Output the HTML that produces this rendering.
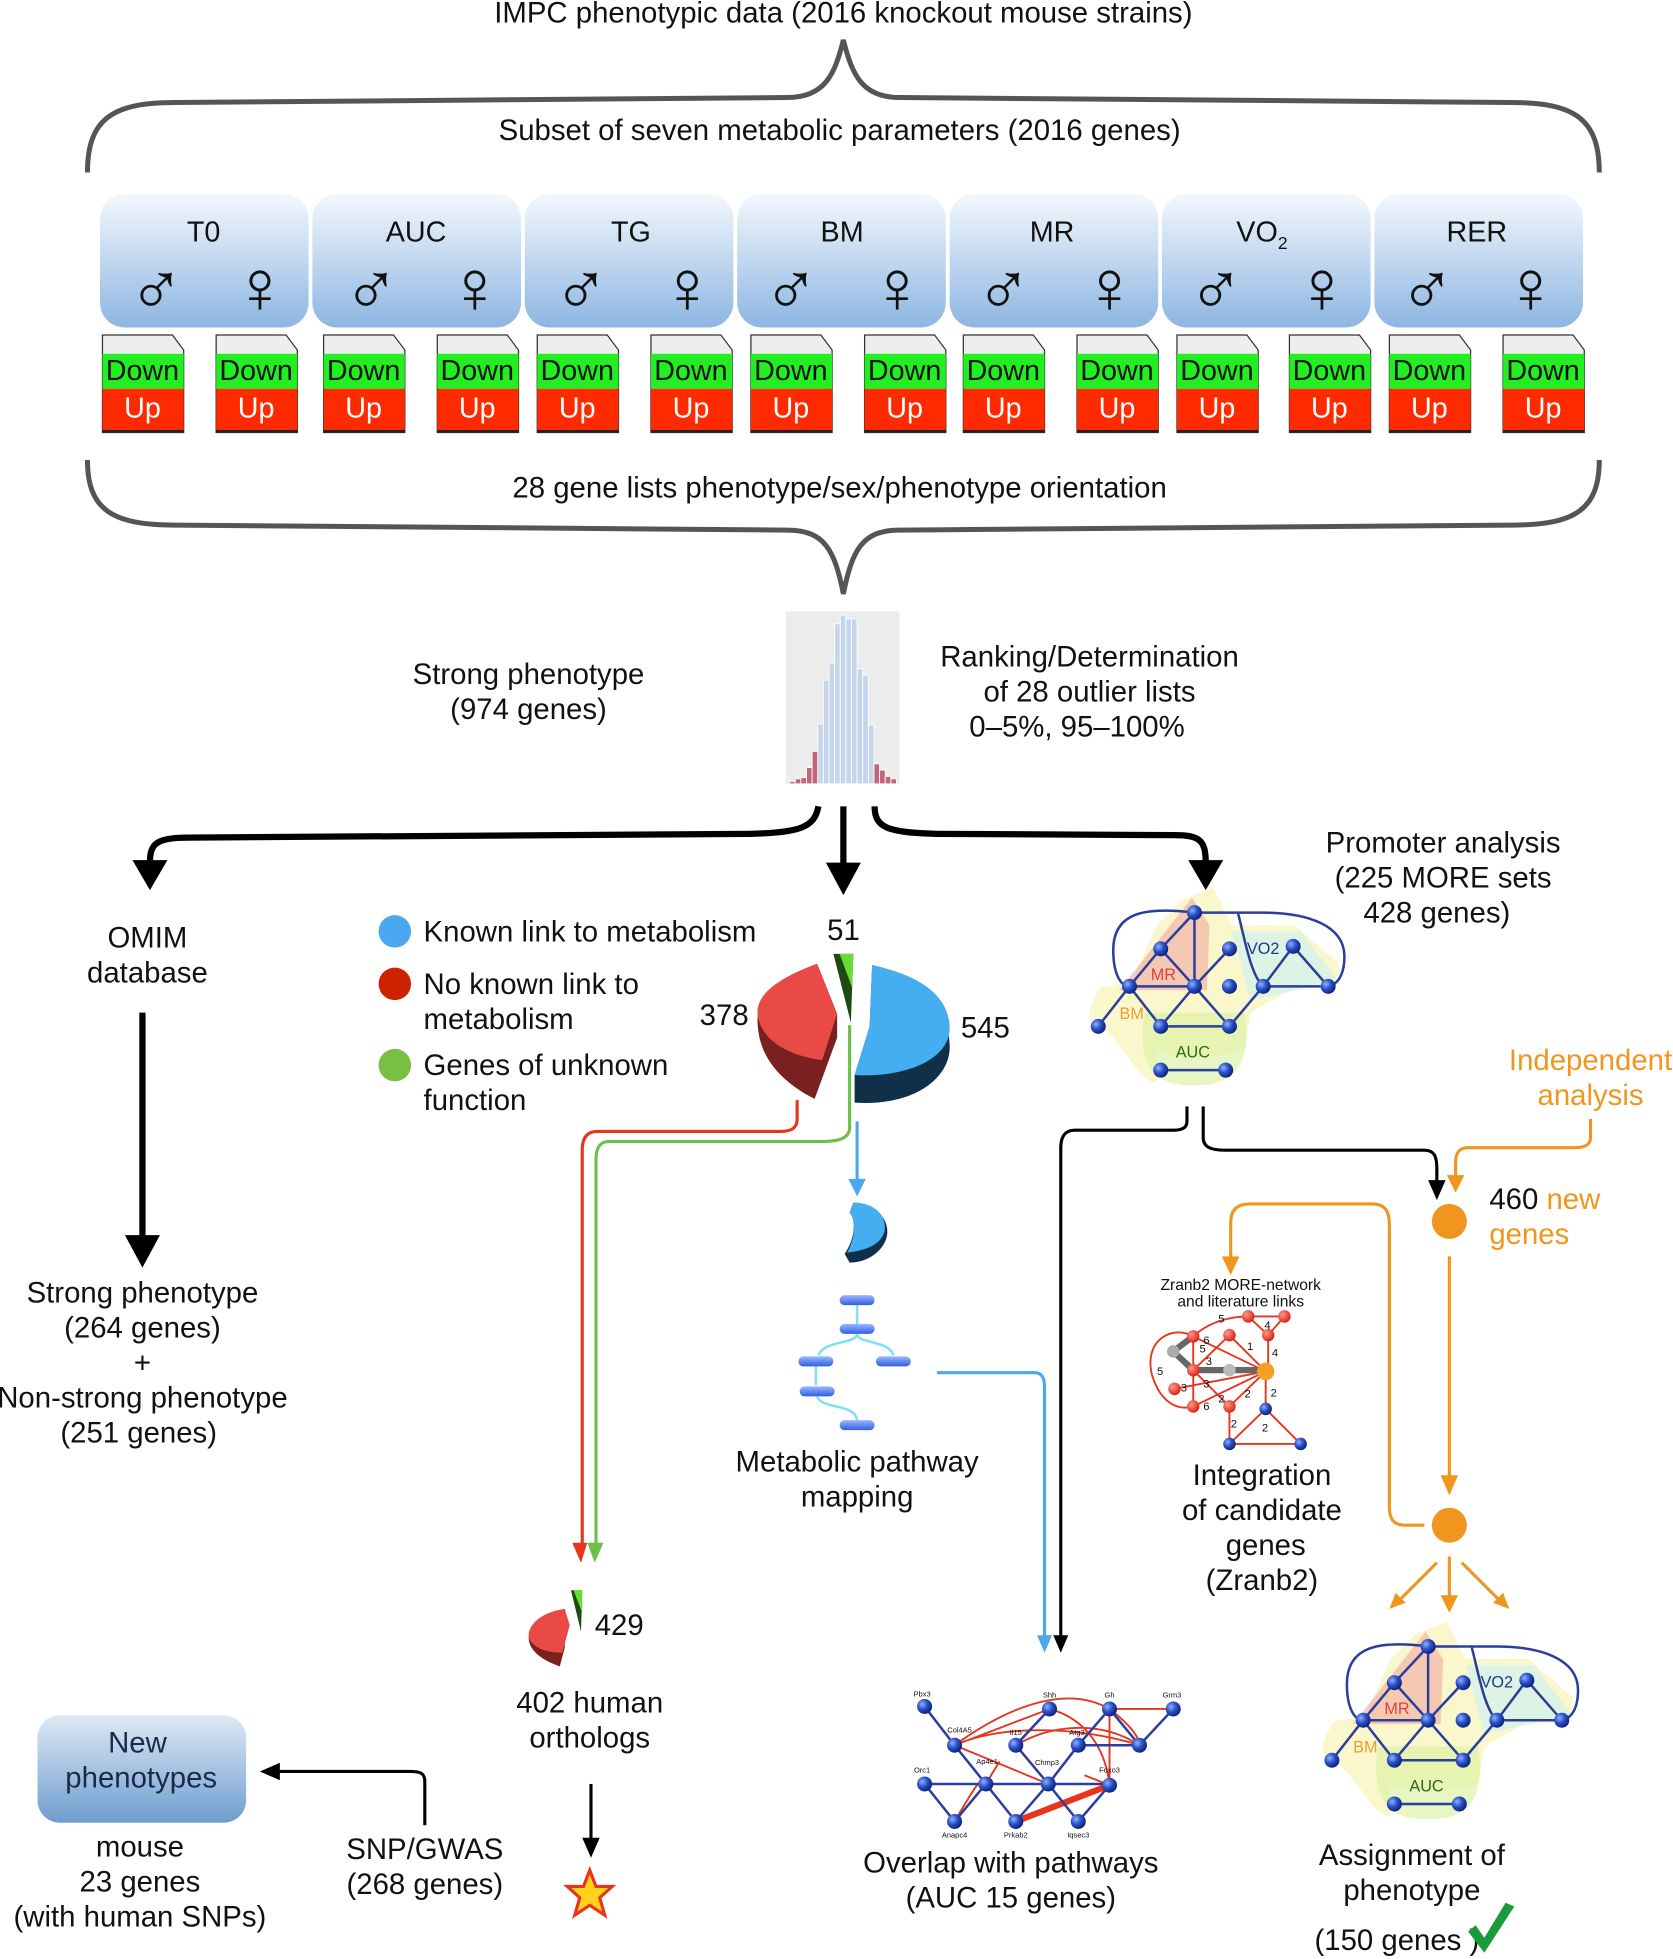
<!DOCTYPE html>
<html><head><meta charset="utf-8"><style>html,body{margin:0;padding:0;background:#fff}svg{display:block}text{font-family:"Liberation Sans",sans-serif}</style></head><body>
<svg width="1673" height="1959" viewBox="0 0 1339 1567" preserveAspectRatio="none" xmlns="http://www.w3.org/2000/svg">
<defs>
<linearGradient id="bx" x1="0" y1="0" x2="0" y2="1"><stop offset="0" stop-color="#f4f8fd"/><stop offset="1" stop-color="#8db6e2"/></linearGradient>
<radialGradient id="nd" cx="0.35" cy="0.35" r="0.7"><stop offset="0" stop-color="#8fb0ff"/><stop offset="0.5" stop-color="#2a4fc8"/><stop offset="1" stop-color="#0a1f70"/></radialGradient>
<radialGradient id="rn" cx="0.35" cy="0.35" r="0.7"><stop offset="0" stop-color="#ff9a8a"/><stop offset="1" stop-color="#d81e10"/></radialGradient>
<linearGradient id="pill" x1="0" y1="0" x2="0" y2="1"><stop offset="0" stop-color="#9ab8ff"/><stop offset="1" stop-color="#2f5ee0"/></linearGradient>
<linearGradient id="np" x1="0" y1="0" x2="0" y2="1"><stop offset="0" stop-color="#dfe9f5"/><stop offset="1" stop-color="#6f9dcf"/></linearGradient>
</defs>
<g font-size="23.5" fill="#111" text-anchor="middle">
<text x="675" y="18">IMPC phenotypic data (2016 knockout mouse strains)</text>
<text x="672" y="112">Subset of seven metabolic parameters (2016 genes)</text>
<text x="672" y="398">28 gene lists phenotype/sex/phenotype orientation</text>
</g>
<g fill="none" stroke="#555" stroke-width="4">
<path d="M70,138 C70,95 90,82 140,82 L630,78 C660,78 668,60 675,32 C682,60 690,78 720,78 L1210,82 C1260,82 1280,95 1280,138"/>
<path d="M70,368 C70,408 90,420 140,420 L630,424 C660,424 668,440 675,475 C682,440 690,424 720,424 L1210,420 C1260,420 1280,408 1280,368"/>
</g>
<g>
<rect x="80" y="155" width="167" height="107" rx="20" fill="url(#bx)"/>
<rect x="250" y="155" width="167" height="107" rx="20" fill="url(#bx)"/>
<rect x="420" y="155" width="167" height="107" rx="20" fill="url(#bx)"/>
<rect x="590" y="155" width="167" height="107" rx="20" fill="url(#bx)"/>
<rect x="760" y="155" width="167" height="107" rx="20" fill="url(#bx)"/>
<rect x="930" y="155" width="167" height="107" rx="20" fill="url(#bx)"/>
<rect x="1100" y="155" width="167" height="107" rx="20" fill="url(#bx)"/>
</g>
<g font-size="23" fill="#111" text-anchor="middle">
<text x="163" y="193">T0</text><text x="333" y="193">AUC</text><text x="505" y="193">TG</text><text x="674" y="193">BM</text><text x="842" y="193">MR</text><text x="1010" y="193">VO<tspan font-size="14" dy="6">2</tspan></text><text x="1182" y="193">RER</text>
</g>
<g font-size="60" fill="#111" text-anchor="middle">
<text x="125" y="252">♂</text><text x="208" y="250">♀</text>
<text x="297" y="252">♂</text><text x="380" y="250">♀</text>
<text x="465" y="252">♂</text><text x="550" y="250">♀</text>
<text x="633" y="252">♂</text><text x="718" y="250">♀</text>
<text x="803" y="252">♂</text><text x="888" y="250">♀</text>
<text x="973" y="252">♂</text><text x="1058" y="250">♀</text>
<text x="1142" y="252">♂</text><text x="1225" y="250">♀</text>
</g>
<g font-size="23" text-anchor="middle">
<g transform="translate(82,268)"><path d="M0,0 H56 L65,12 V78 H0Z" fill="#eee" stroke="#333"/><rect x="0" y="15" width="65" height="28" fill="#22ee22"/><rect x="0" y="43" width="65" height="33" fill="#ff2a00"/><text x="32" y="36" fill="#111">Down</text><text x="32" y="66" fill="#fff">Up</text><path d="M0,77H65" stroke="#222" stroke-width="2"/></g>
<g transform="translate(173,268)"><path d="M0,0 H56 L65,12 V78 H0Z" fill="#eee" stroke="#333"/><rect x="0" y="15" width="65" height="28" fill="#22ee22"/><rect x="0" y="43" width="65" height="33" fill="#ff2a00"/><text x="32" y="36" fill="#111">Down</text><text x="32" y="66" fill="#fff">Up</text><path d="M0,77H65" stroke="#222" stroke-width="2"/></g>
<g transform="translate(259,268)"><path d="M0,0 H56 L65,12 V78 H0Z" fill="#eee" stroke="#333"/><rect x="0" y="15" width="65" height="28" fill="#22ee22"/><rect x="0" y="43" width="65" height="33" fill="#ff2a00"/><text x="32" y="36" fill="#111">Down</text><text x="32" y="66" fill="#fff">Up</text><path d="M0,77H65" stroke="#222" stroke-width="2"/></g>
<g transform="translate(350,268)"><path d="M0,0 H56 L65,12 V78 H0Z" fill="#eee" stroke="#333"/><rect x="0" y="15" width="65" height="28" fill="#22ee22"/><rect x="0" y="43" width="65" height="33" fill="#ff2a00"/><text x="32" y="36" fill="#111">Down</text><text x="32" y="66" fill="#fff">Up</text><path d="M0,77H65" stroke="#222" stroke-width="2"/></g>
<g transform="translate(430,268)"><path d="M0,0 H56 L65,12 V78 H0Z" fill="#eee" stroke="#333"/><rect x="0" y="15" width="65" height="28" fill="#22ee22"/><rect x="0" y="43" width="65" height="33" fill="#ff2a00"/><text x="32" y="36" fill="#111">Down</text><text x="32" y="66" fill="#fff">Up</text><path d="M0,77H65" stroke="#222" stroke-width="2"/></g>
<g transform="translate(521,268)"><path d="M0,0 H56 L65,12 V78 H0Z" fill="#eee" stroke="#333"/><rect x="0" y="15" width="65" height="28" fill="#22ee22"/><rect x="0" y="43" width="65" height="33" fill="#ff2a00"/><text x="32" y="36" fill="#111">Down</text><text x="32" y="66" fill="#fff">Up</text><path d="M0,77H65" stroke="#222" stroke-width="2"/></g>
<g transform="translate(601,268)"><path d="M0,0 H56 L65,12 V78 H0Z" fill="#eee" stroke="#333"/><rect x="0" y="15" width="65" height="28" fill="#22ee22"/><rect x="0" y="43" width="65" height="33" fill="#ff2a00"/><text x="32" y="36" fill="#111">Down</text><text x="32" y="66" fill="#fff">Up</text><path d="M0,77H65" stroke="#222" stroke-width="2"/></g>
<g transform="translate(692,268)"><path d="M0,0 H56 L65,12 V78 H0Z" fill="#eee" stroke="#333"/><rect x="0" y="15" width="65" height="28" fill="#22ee22"/><rect x="0" y="43" width="65" height="33" fill="#ff2a00"/><text x="32" y="36" fill="#111">Down</text><text x="32" y="66" fill="#fff">Up</text><path d="M0,77H65" stroke="#222" stroke-width="2"/></g>
<g transform="translate(771,268)"><path d="M0,0 H56 L65,12 V78 H0Z" fill="#eee" stroke="#333"/><rect x="0" y="15" width="65" height="28" fill="#22ee22"/><rect x="0" y="43" width="65" height="33" fill="#ff2a00"/><text x="32" y="36" fill="#111">Down</text><text x="32" y="66" fill="#fff">Up</text><path d="M0,77H65" stroke="#222" stroke-width="2"/></g>
<g transform="translate(862,268)"><path d="M0,0 H56 L65,12 V78 H0Z" fill="#eee" stroke="#333"/><rect x="0" y="15" width="65" height="28" fill="#22ee22"/><rect x="0" y="43" width="65" height="33" fill="#ff2a00"/><text x="32" y="36" fill="#111">Down</text><text x="32" y="66" fill="#fff">Up</text><path d="M0,77H65" stroke="#222" stroke-width="2"/></g>
<g transform="translate(942,268)"><path d="M0,0 H56 L65,12 V78 H0Z" fill="#eee" stroke="#333"/><rect x="0" y="15" width="65" height="28" fill="#22ee22"/><rect x="0" y="43" width="65" height="33" fill="#ff2a00"/><text x="32" y="36" fill="#111">Down</text><text x="32" y="66" fill="#fff">Up</text><path d="M0,77H65" stroke="#222" stroke-width="2"/></g>
<g transform="translate(1032,268)"><path d="M0,0 H56 L65,12 V78 H0Z" fill="#eee" stroke="#333"/><rect x="0" y="15" width="65" height="28" fill="#22ee22"/><rect x="0" y="43" width="65" height="33" fill="#ff2a00"/><text x="32" y="36" fill="#111">Down</text><text x="32" y="66" fill="#fff">Up</text><path d="M0,77H65" stroke="#222" stroke-width="2"/></g>
<g transform="translate(1112,268)"><path d="M0,0 H56 L65,12 V78 H0Z" fill="#eee" stroke="#333"/><rect x="0" y="15" width="65" height="28" fill="#22ee22"/><rect x="0" y="43" width="65" height="33" fill="#ff2a00"/><text x="32" y="36" fill="#111">Down</text><text x="32" y="66" fill="#fff">Up</text><path d="M0,77H65" stroke="#222" stroke-width="2"/></g>
<g transform="translate(1203,268)"><path d="M0,0 H56 L65,12 V78 H0Z" fill="#eee" stroke="#333"/><rect x="0" y="15" width="65" height="28" fill="#22ee22"/><rect x="0" y="43" width="65" height="33" fill="#ff2a00"/><text x="32" y="36" fill="#111">Down</text><text x="32" y="66" fill="#fff">Up</text><path d="M0,77H65" stroke="#222" stroke-width="2"/></g>
</g>
<rect x="629" y="489" width="91" height="138" fill="#ececec"/>
<g stroke="#fff" stroke-width="0.7">
<rect x="632" y="625" width="4.5" height="2" fill="#c2647a"/><rect x="636.5" y="623" width="4.5" height="4" fill="#c2647a"/><rect x="641" y="622" width="4.5" height="5" fill="#c2647a"/><rect x="645.5" y="614" width="4.5" height="13" fill="#c2647a"/><rect x="650" y="601" width="4.5" height="26" fill="#c2647a"/>
<rect x="654.5" y="579" width="4.5" height="48" fill="#c5d5ea"/><rect x="659" y="544" width="4.5" height="83" fill="#c5d5ea"/><rect x="663.5" y="531" width="4.5" height="96" fill="#c5d5ea"/><rect x="668" y="499" width="4.5" height="128" fill="#c5d5ea"/><rect x="672.5" y="492" width="4.5" height="135" fill="#c5d5ea"/><rect x="677" y="495" width="4.5" height="132" fill="#c5d5ea"/><rect x="681.5" y="495" width="4.5" height="132" fill="#c5d5ea"/><rect x="686" y="535" width="4.5" height="92" fill="#c5d5ea"/><rect x="690.5" y="540" width="4.5" height="87" fill="#c5d5ea"/><rect x="695" y="580" width="4.5" height="47" fill="#c5d5ea"/>
<rect x="699.5" y="611" width="4.5" height="16" fill="#c2647a"/><rect x="704" y="616" width="4.5" height="11" fill="#c2647a"/><rect x="708.5" y="621" width="4.5" height="6" fill="#c2647a"/><rect x="713" y="623" width="4.5" height="4" fill="#c2647a"/>
</g>
<g font-size="23.5" fill="#111" text-anchor="middle">
<text x="423" y="547">Strong phenotype</text><text x="423" y="575">(974 genes)</text>
<text x="872" y="533">Ranking/Determination</text><text x="872" y="561">of 28 outlier lists</text><text x="862" y="589">0–5%, 95–100%</text>
<text x="1155" y="682">Promoter analysis</text><text x="1155" y="710">(225 MORE sets</text><text x="1150" y="738">428 genes)</text>
<text x="118" y="758">OMIM</text><text x="118" y="786">database</text>
<text x="114" y="1042">Strong phenotype</text><text x="114" y="1070">(264 genes)</text><text x="114" y="1098">+</text><text x="114" y="1126">Non-strong phenotype</text><text x="111" y="1154">(251 genes)</text>
<text x="686" y="1177">Metabolic pathway</text><text x="686" y="1205">mapping</text>
<text x="1010" y="1188">Integration</text><text x="1010" y="1216">of candidate</text><text x="1013" y="1244">genes</text><text x="1010" y="1272">(Zranb2)</text>
<text x="472" y="1370">402 human</text><text x="472" y="1398">orthologs</text>
<text x="809" y="1498">Overlap with pathways</text><text x="809" y="1526">(AUC 15 genes)</text>
<text x="1130" y="1492">Assignment of</text><text x="1130" y="1520">phenotype</text><text x="1118" y="1560">(150 genes   )</text>
<text x="112" y="1485">mouse</text><text x="112" y="1513">23 genes</text><text x="112" y="1541">(with human SNPs)</text>
<text x="340" y="1487">SNP/GWAS</text><text x="340" y="1515">(268 genes)</text>
</g>
<g font-size="23.5" fill="#111">
<text x="339" y="753">Known link to metabolism</text>
<text x="339" y="795">No known link to</text><text x="339" y="823">metabolism</text>
<text x="339" y="860">Genes of unknown</text><text x="339" y="888">function</text>
<text x="662" y="752">51</text><text x="560" y="820">378</text><text x="769" y="830">545</text>
<text x="476" y="1308">429</text>
<text x="1192" y="967">460 <tspan fill="#f0961e">new</tspan></text><text x="1192" y="995" fill="#f0961e">genes</text>
</g>
<g font-size="23.5" fill="#f0961e" text-anchor="middle"><text x="1273" y="856">Independent</text><text x="1273" y="884">analysis</text></g>
<circle cx="316" cy="745" r="13" fill="#4ba8f0"/><circle cx="316" cy="787" r="13" fill="#cc2200"/><circle cx="316" cy="852" r="13" fill="#77c043"/>
<g fill="none" stroke="#000" stroke-width="5">
<path d="M655,645 C652,662 640,666 600,667 L150,670 C125,670 120,675 120,690"/>
<path d="M675,645 V692"/>
<path d="M700,645 C700,662 710,666 750,667 L940,668 C960,668 965,672 965,690"/>
<path d="M114,810 V990"/>
</g>
<path d="M106,688 L120,712 L134,688Z M661,690 L675,716 L689,690Z M951,688 L965,712 L979,688Z M100,988 L114,1014 L128,988Z"/>
<path d="M654,771 C615,785 603,800 607,825 C610,850 630,868 652,879 L670,830 L670,811 Z" fill="#7a2020"/>
<path d="M654,771 C615,785 603,800 607,815 C612,835 635,845 658,848 L670,811 Z" fill="#e84a45"/>
<path d="M698,772 L696,821 L684,860 L684,882 C735,885 762,860 760,835 C758,800 735,780 698,772Z" fill="#10304a"/>
<path d="M698,772 L696,821 L684,860 C730,862 762,845 760,820 C758,795 735,780 698,772Z" fill="#45aef0"/>
<path d="M667,763 L683,763 L681,818 Z" fill="#1e4a10"/><path d="M672,763 L683,763 L682,790 Z" fill="#66dd33"/>
<path d="M638,880 V895 C638,902 634,905 625,905 L478,905 C470,905 466,910 466,920 V1240" fill="none" stroke="#e8341c" stroke-width="2.5"/>
<path d="M680,820 V902 C680,910 672,913 660,913 L488,913 C480,913 477,918 477,928 V1240" fill="none" stroke="#6cc04a" stroke-width="2.5"/>
<path d="M458,1234 L465,1250 L470,1234Z" fill="#e8341c"/><path d="M470,1234 L476,1250 L483,1234Z" fill="#6cc04a"/>
<path d="M686,897 V948" stroke="#4ba8f0" stroke-width="2.5"/><path d="M679,943 L686,957 L693,943Z" fill="#4ba8f0"/>
<path d="M683,962 C700,962 712,975 710,988 C708,1000 695,1010 680,1010 L676,1003 C685,990 685,975 680,970Z" fill="#10304a"/>
<path d="M683,962 C700,962 710,972 708,985 C705,995 695,1000 678,1002 C685,990 685,975 680,970Z" fill="#45aef0"/>
<g fill="none" stroke="#7ee0f0" stroke-width="2"><path d="M686,1044 V1059 M686,1067 C686,1075 660,1072 655,1084 M686,1067 C686,1075 712,1072 715,1084 M653,1093 V1108 M654,1117 C658,1128 684,1122 686,1136"/></g>
<g fill="url(#pill)"><rect x="672" y="1036" width="28" height="8" rx="4"/><rect x="672" y="1059" width="28" height="8" rx="4"/><rect x="639" y="1085" width="28" height="8" rx="4"/><rect x="701" y="1085" width="28" height="8" rx="4"/><rect x="640" y="1109" width="28" height="8" rx="4"/><rect x="672" y="1136" width="28" height="8" rx="4"/></g>
<path d="M750,1098 H828 C834,1098 836,1102 836,1110 V1312" fill="none" stroke="#4ba8f0" stroke-width="2.5"/><path d="M830,1308 L836,1322 L842,1308Z" fill="#4ba8f0"/>
<path d="M950,885 V897 C950,902 946,904 940,904 L860,904 C852,904 849,910 849,918 V1312" fill="none" stroke="#000" stroke-width="2.5"/><path d="M843,1308 L849,1322 L855,1308Z"/>
<path d="M963,885 V910 C963,918 970,920 980,920 L1140,920 C1148,920 1150,925 1150,935 V948" fill="none" stroke="#000" stroke-width="2.5"/><path d="M1143,944 L1150,960 L1157,944Z"/>
<g fill="none" stroke="#f0961e" stroke-width="2.5">
<path d="M1273,895 V910 C1273,916 1268,918 1260,918 L1175,918 C1168,918 1165,922 1165,930 V945"/>
<path d="M1160,1005 V1185"/>
<path d="M1140,1220 H1125 C1115,1220 1112,1215 1112,1205 V980 C1112,968 1108,963 1098,963 L1000,963 C990,963 985,968 985,978 V1008"/>
<path d="M1160,1245 V1280 M1150,1250 L1118,1282 M1170,1250 L1202,1282"/>
</g>
<g fill="#f0961e">
<path d="M1158,940 L1165,954 L1172,940Z"/><path d="M1153,1180 L1160,1196 L1167,1180Z"/><path d="M978,1005 L985,1020 L992,1005Z"/>
<path d="M1153,1276 L1160,1290 L1167,1276Z"/><path d="M1112,1287 L1125,1282 L1117,1274Z"/><path d="M1208,1287 L1195,1282 L1203,1274Z"/>
<circle cx="1160" cy="977" r="14"/><circle cx="1160" cy="1220" r="14"/>
</g>
<g font-size="12.5" fill="#111" text-anchor="middle"><text x="993" y="1032">Zranb2 MORE-network</text><text x="993" y="1045">and literature links</text></g>
<g fill="none" stroke="#e8341c" stroke-width="1.5">
<path d="M955,1069 C940,1060 915,1070 922,1100 C930,1125 945,1128 955,1125"/>
<path d="M955,1069 C970,1055 990,1053 999,1053 H1028 L1015,1068 L999,1053 M1015,1068 V1097"/>
<path d="M955,1069 V1125 M955,1069 L1013,1097 M984,1068 L1013,1097 M984,1068 L955,1096 M955,1096 L1013,1097 M940,1111 L1013,1097 M955,1125 L1013,1097 M984,1125 L1013,1097 M955,1096 L984,1125 M1013,1097 V1127 M984,1125 V1155 H1041 L1013,1127 L984,1155"/>
</g>
<path d="M955,1069 L939,1081 L955,1096 H1013" stroke="#666" stroke-width="5" fill="none"/>
<g fill="url(#rn)"><circle cx="999" cy="1053" r="5"/><circle cx="1028" cy="1053" r="5"/><circle cx="1015" cy="1068" r="5"/><circle cx="955" cy="1069" r="5"/><circle cx="984" cy="1068" r="5"/><circle cx="955" cy="1096" r="5"/><circle cx="940" cy="1111" r="5"/><circle cx="955" cy="1125" r="5"/><circle cx="984" cy="1125" r="5"/></g>
<circle cx="939" cy="1081" r="5" fill="#aaa"/><circle cx="984" cy="1096" r="5" fill="#bbb"/><circle cx="1013" cy="1097" r="7" fill="#f5a020"/>
<g fill="url(#nd)"><circle cx="1013" cy="1127" r="5"/><circle cx="984" cy="1155" r="5"/><circle cx="1041" cy="1155" r="5"/></g>
<g font-size="9" fill="#111"><text x="975" y="1058">5</text><text x="1012" y="1063">4</text><text x="1018" y="1085">4</text><text x="926" y="1100">5</text><text x="963" y="1075">6</text><text x="960" y="1082">5</text><text x="998" y="1080">1</text><text x="965" y="1092">3</text><text x="945" y="1113">3</text><text x="963" y="1110">3</text><text x="963" y="1128">6</text><text x="975" y="1122">2</text><text x="996" y="1118">2</text><text x="1017" y="1117">2</text><text x="985" y="1142">2</text><text x="1010" y="1145">2</text></g>
<g fill="none" stroke="#e8341c" stroke-width="1.5">
<path d="M764,1396 C800,1370 850,1345 888,1367 C905,1380 912,1390 912,1396"/><path d="M764,1396 L840,1367 M764,1396 C800,1380 860,1380 912,1396 M764,1396 L839,1427 M813,1396 C840,1380 880,1375 912,1396 M840,1367 C870,1375 885,1400 888,1428 M888,1367 V1428 M888,1367 H939 M800,1409 L789,1427 M764,1457 C780,1430 785,1420 789,1427 M740,1427 L764,1457 M868,1420 L888,1428"/>
<path d="M813,1457 L888,1428" stroke-width="5"/>
</g>
<g fill="none" stroke="#2b3e9a" stroke-width="2">
<path d="M740,1365 L764,1396 L789,1427 M840,1367 L813,1396 M813,1396 L839,1427 M888,1367 L863,1396 L839,1427 M863,1396 H912 L888,1367 M912,1396 L939,1367 M740,1427 H888 M740,1427 L764,1457 L789,1427 L813,1457 L839,1427 L863,1457 L888,1428"/>
</g>
<g fill="url(#nd)"><circle cx="740" cy="1365" r="6"/><circle cx="840" cy="1367" r="6"/><circle cx="888" cy="1367" r="6"/><circle cx="939" cy="1367" r="6"/><circle cx="764" cy="1396" r="6"/><circle cx="813" cy="1396" r="6"/><circle cx="863" cy="1396" r="6"/><circle cx="912" cy="1396" r="6"/><circle cx="740" cy="1427" r="6"/><circle cx="789" cy="1427" r="6"/><circle cx="839" cy="1427" r="6"/><circle cx="888" cy="1428" r="6"/><circle cx="764" cy="1457" r="6"/><circle cx="813" cy="1457" r="6"/><circle cx="863" cy="1457" r="6"/></g>
<g font-size="6" fill="#111" text-anchor="middle"><text x="738" y="1357">Pbx3</text><text x="840" y="1358">Shh</text><text x="888" y="1358">Gh</text><text x="938" y="1358">Grm3</text><text x="768" y="1386">Col4A5</text><text x="813" y="1388">Il15</text><text x="862" y="1388">Atg3</text><text x="790" y="1411">Ap4e1</text><text x="838" y="1412">Chmp3</text><text x="888" y="1418">Foxo3</text><text x="738" y="1418">Orc1</text><text x="764" y="1470">Anapc4</text><text x="813" y="1470">Prkab2</text><text x="863" y="1470">Iqsec3</text></g>
<g transform="translate(956,730)">
<path d="M-75,60 C-90,80 -85,95 -70,95 C-55,110 -40,140 -30,135 L-30,110 C-10,120 20,115 40,110 L45,80 L80,60 C100,55 120,60 115,40 L80,10 L30,10 L15,-20 L-10,-10 L-30,10 L-50,55 Z" fill="#f4f1a0" opacity="0.55"/>
<path d="M-40,80 C-45,110 -40,140 0,138 C40,140 45,110 40,80 Z" fill="#d8f0a0" opacity="0.6"/>
<path d="M-60,62 L-2,-12 L12,10 L10,62 Z" fill="#f29a9a" opacity="0.5"/>
<path d="M30,15 L85,15 L115,55 L45,70 Z" fill="#c8f0f8" opacity="0.6"/>
<g fill="none" stroke="#2b3e9a" stroke-width="2">
<path d="M0,0 L-27,29 L-52,59 L-77,91 M0,0 V59 M-27,29 L0,59 M28,29 L0,59 L-27,91 L-52,59 M0,59 L28,91 H-27 M28,91 L55,59 L79,27 L107,59 H55 M-52,59 H0 M-27,126 H25"/>
<path d="M0,0 C-40,-5 -65,0 -65,30 C-65,55 -55,60 -52,59"/>
<path d="M0,0 H55 C90,0 120,10 120,35 C120,55 110,59 107,59 M35,1 C40,20 45,50 55,59"/>
</g>
<g fill="url(#nd)"><circle cx="0" cy="0" r="6"/><circle cx="-27" cy="29" r="6"/><circle cx="28" cy="29" r="6"/><circle cx="79" cy="27" r="6"/><circle cx="-52" cy="59" r="6"/><circle cx="0" cy="59" r="6"/><circle cx="28" cy="59" r="6"/><circle cx="55" cy="59" r="6"/><circle cx="107" cy="59" r="6"/><circle cx="-77" cy="91" r="6"/><circle cx="-27" cy="91" r="6"/><circle cx="28" cy="91" r="6"/><circle cx="-27" cy="126" r="6"/><circle cx="25" cy="126" r="6"/></g>
<text x="-35" y="54" font-size="13" fill="#e04040">MR</text><text x="-60" y="85" font-size="13" fill="#e8a030">BM</text><text x="42" y="33" font-size="13" fill="#1a3a90">VO2</text><text x="-15" y="116" font-size="13" fill="#2a6a20">AUC</text>
</g>
<g transform="translate(1143,1317)">
<path d="M-75,60 C-90,80 -85,95 -70,95 C-55,110 -40,140 -30,135 L-30,110 C-10,120 20,115 40,110 L45,80 L80,60 C100,55 120,60 115,40 L80,10 L30,10 L15,-20 L-10,-10 L-30,10 L-50,55 Z" fill="#f4f1a0" opacity="0.55"/>
<path d="M-40,80 C-45,110 -40,140 0,138 C40,140 45,110 40,80 Z" fill="#d8f0a0" opacity="0.6"/>
<path d="M-60,62 L-2,-12 L12,10 L10,62 Z" fill="#f29a9a" opacity="0.5"/>
<path d="M30,15 L85,15 L115,55 L45,70 Z" fill="#c8f0f8" opacity="0.6"/>
<g fill="none" stroke="#2b3e9a" stroke-width="2">
<path d="M0,0 L-27,29 L-52,59 L-77,91 M0,0 V59 M-27,29 L0,59 M28,29 L0,59 L-27,91 L-52,59 M0,59 L28,91 H-27 M28,91 L55,59 L79,27 L107,59 H55 M-52,59 H0 M-27,126 H25"/>
<path d="M0,0 C-40,-5 -65,0 -65,30 C-65,55 -55,60 -52,59"/>
<path d="M0,0 H55 C90,0 120,10 120,35 C120,55 110,59 107,59 M35,1 C40,20 45,50 55,59"/>
</g>
<g fill="url(#nd)"><circle cx="0" cy="0" r="6"/><circle cx="-27" cy="29" r="6"/><circle cx="28" cy="29" r="6"/><circle cx="79" cy="27" r="6"/><circle cx="-52" cy="59" r="6"/><circle cx="0" cy="59" r="6"/><circle cx="28" cy="59" r="6"/><circle cx="55" cy="59" r="6"/><circle cx="107" cy="59" r="6"/><circle cx="-77" cy="91" r="6"/><circle cx="-27" cy="91" r="6"/><circle cx="28" cy="91" r="6"/><circle cx="-27" cy="126" r="6"/><circle cx="25" cy="126" r="6"/></g>
<text x="-35" y="54" font-size="13" fill="#e04040">MR</text><text x="-60" y="85" font-size="13" fill="#e8a030">BM</text><text x="42" y="33" font-size="13" fill="#1a3a90">VO2</text><text x="-15" y="116" font-size="13" fill="#2a6a20">AUC</text>
</g>
<path d="M1175,1545 L1188,1562 L1212,1525 L1205,1522 L1188,1550 L1181,1540 Z" fill="#1a9a3a"/>
<path d="M452,1287 C430,1290 420,1303 424,1315 C428,1325 440,1330 448,1333 L452,1318 Z" fill="#7a2020"/>
<path d="M452,1287 C430,1290 420,1303 424,1312 C430,1320 440,1322 450,1322 L456,1300 Z" fill="#e84a45"/>
<path d="M457,1272 L466,1272 L465,1305 Z" fill="#1e4a10"/><path d="M459,1272 L466,1272 L466,1290 Z" fill="#66dd33"/>
<path d="M473,1427 V1472" stroke="#000" stroke-width="2.5"/><path d="M466,1470 L473,1486 L480,1470Z"/>
<path d="M472,1496 L477,1509 L490,1509 L480,1518 L484,1532 L472,1524 L460,1532 L464,1518 L454,1509 L467,1509 Z" fill="#ffd21e" stroke="#e8341c" stroke-width="2.5"/>
<rect x="30" y="1372" width="167" height="86" rx="18" fill="url(#np)"/>
<g font-size="23.5" fill="#1a2a4a" text-anchor="middle"><text x="110" y="1402">New</text><text x="113" y="1430">phenotypes</text></g>
<path d="M340,1460 V1425 C340,1418 336,1417 328,1417 L222,1417" fill="none" stroke="#000" stroke-width="2.5"/><path d="M224,1410 L208,1417 L224,1424Z"/>
</svg>
</body></html>
